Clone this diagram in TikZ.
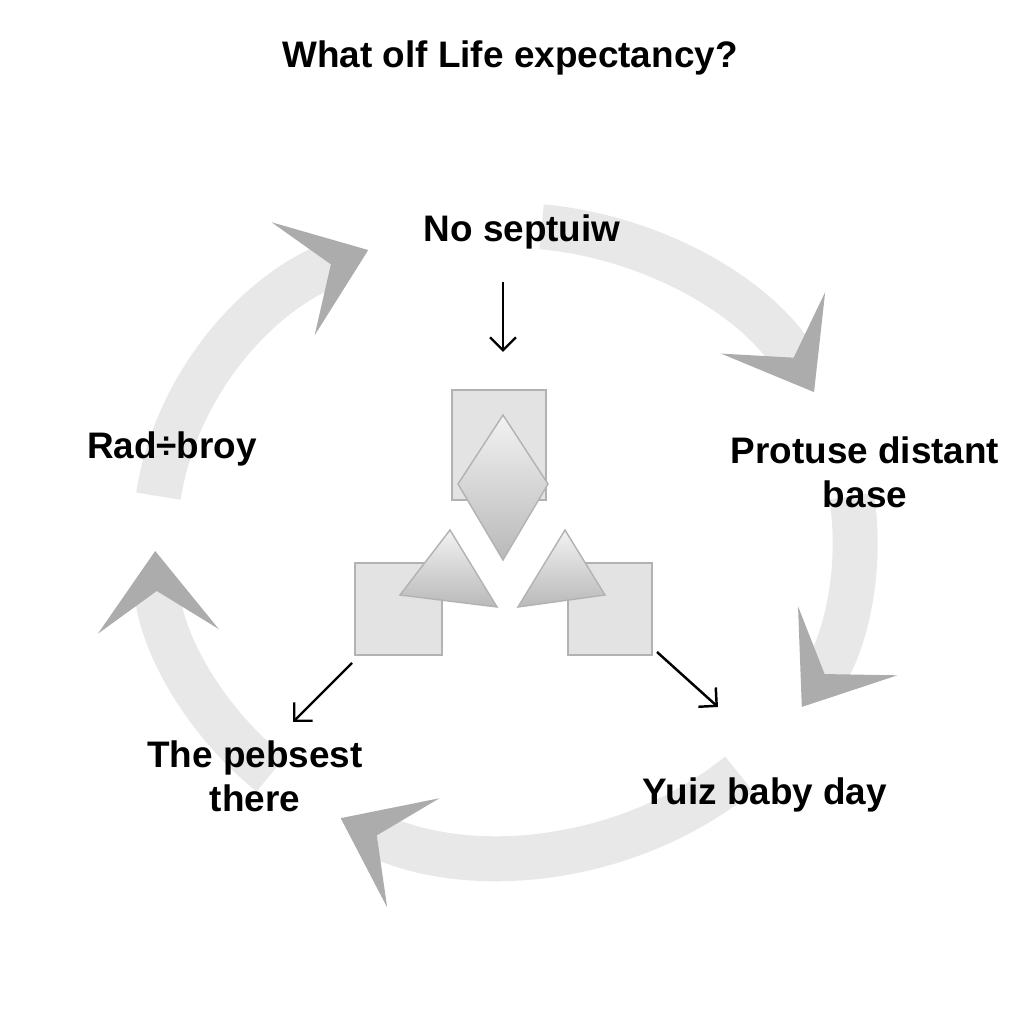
\documentclass[tikz,border=0pt]{standalone}
\usepackage{fontspec}
\setmainfont{Liberation Sans}
\usetikzlibrary{arrows.meta}
\tikzset{
  lbl/.style={font=\bfseries\fontsize{10.5pt}{12.5pt}\selectfont, align=center},
  band/.style={line width=0.45cm, gray!18, -{Stealth[length=8mm,width=12mm,inset=4mm,color=gray!65]}},
  box/.style={fill=gray!22, draw=gray!60, line width=0.6pt},
  shard/.style={top color=gray!10, bottom color=gray!55, draw=gray!60},
  thin/.style={-{Straight Barb[length=1.3mm]}, line width=0.7pt}
}
\begin{document}
\begin{tikzpicture}
  \useasboundingbox (0,0) rectangle (10.24,10.24);
  \fill[white] (0,0) rectangle (10.24,10.24);

  % Title
  \node[lbl] (title) at (5.1,9.66) {What olf Life expectancy?};

  % Ring of arrows
  \coordinate (c) at (5.05,4.84);
  \foreach \a/\b in {172/113, 84/28, 8/-32, -48/-118, -132/-178} {
    \draw[band] (c) ++(\a:3.5 and 3.15) arc[start angle=\a, end angle=\b, x radius=3.5, y radius=3.15];
  }

  % Labels on the ring
  \node[lbl] (top) at (5.22,7.92) {No septuiw};
  \node[lbl] (left) at (1.72,5.75) {Rad÷broy};
  \node[lbl] (right) at (8.65,5.52) {Protuse distant\\base};
  \node[lbl] (lowleft) at (2.55,2.48) {The pebsest\\there};
  \node[lbl] (lowright) at (7.65,2.29) {Yuiz baby day};

  % Centre shapes
  \draw[box] (4.52,5.24) rectangle (5.46,6.34);
  \draw[box] (3.55,3.69) rectangle (4.42,4.61);
  \draw[box] (5.68,3.69) rectangle (6.52,4.61);
  \draw[shard] (5.03,6.09) -- (5.48,5.40) -- (5.03,4.64) -- (4.58,5.40) -- cycle;
  \draw[shard] (4.50,4.94) -- (4.97,4.17) -- (4.00,4.29) -- cycle;
  \draw[shard] (5.65,4.94) -- (6.05,4.29) -- (5.18,4.17) -- cycle;

  % Small arrows
  \coordinate (a1) at (5.03,7.42);
  \coordinate (a2) at (5.03,6.72);
  \coordinate (b1) at (3.52,3.61);
  \coordinate (b2) at (2.93,3.02);
  \coordinate (d1) at (6.57,3.72);
  \coordinate (d2) at (7.18,3.17);
  \draw[thin] (a1) -- (a2);
  \draw[thin] (b1) -- (b2);
  \draw[thin] (d1) -- (d2);
\end{tikzpicture}
\end{document}
